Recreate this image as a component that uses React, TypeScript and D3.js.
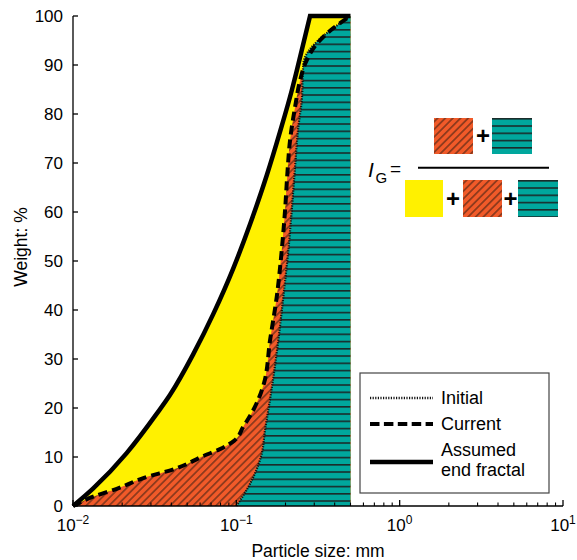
import React from "react";
import * as d3 from "d3";

// Assumed end fractal (solid)
const endSize = [0.01, 0.0133, 0.0213, 0.0325, 0.0393, 0.0545, 0.0723, 0.0958, 0.1213, 0.1536, 0.1852, 0.2184, 0.2343, 0.2827];
const endWeight = [0, 3.6, 10.8, 18.8, 22.7, 31, 39.2, 48.5, 57.5, 67.5, 76.4, 84.8, 88.8, 100];
const topSize = 0.5;

// Current (dashed)
const currentSize = [0.01, 0.01327, 0.01852, 0.02695, 0.04315, 0.0628, 0.0794, 0.0968, 0.1104, 0.1271, 0.1478, 0.1608, 0.1768, 0.1897, 0.1987, 0.2053, 0.2132, 0.2288, 0.2455, 0.2665, 0.3107, 0.3749, 0.5];
const currentWeight = [0, 1.9, 3.5, 5.7, 7.7, 10.2, 11.6, 13.3, 16.2, 19.6, 25.1, 33.8, 42.7, 52.2, 60.3, 67.8, 74.6, 81.4, 86.8, 90.6, 94.3, 97, 100];

// Initial (dotted)
const initialSize = [0.1, 0.1158, 0.1302, 0.1431, 0.1499, 0.157, 0.1666, 0.1807, 0.194, 0.2082, 0.2184, 0.2288, 0.2397, 0.2515, 0.2573, 0.5];
const initialWeight = [0, 3.3, 6.7, 10.7, 15.5, 19.6, 25.1, 33.8, 42.7, 52.2, 60.3, 69.2, 77.3, 82.8, 90.3, 100];

const yTicks = [0, 10, 20, 30, 40, 50, 60, 70, 80, 90, 100];
const xMajor = [0.01, 0.1, 1, 10];
const xMajorExp = ["−2", "−1", "0", "1"];

const YELLOW = "#FFF100";
const ORANGE = "#F15A29";
const TEAL = "#00A79D";
const FONT = "Liberation Sans, Arial, Helvetica, sans-serif";

export default function App() {
  const x = d3.scaleLog().domain([0.01, 10]).range([73, 563]);
  const y = d3.scaleLinear().domain([0, 100]).range([506, 16]);

  const endPts: [number, number][] = endSize.map((d, i) => [x(d), y(endWeight[i])]);
  const curPts: [number, number][] = currentSize.map((d, i) => [x(d), y(currentWeight[i])]);
  const iniPts: [number, number][] = initialSize.map((d, i) => [x(d), y(initialWeight[i])]);

  const lineX = d3.line().curve(d3.curveMonotoneX);
  const lineY = d3.line().curve(d3.curveMonotoneY);

  const endCurve = lineX(endPts) + `L${x(topSize)},${y(100)}`;
  const curCurve = lineY(curPts) as string;
  const iniCurve = lineY(iniPts) as string;

  const x05 = x(0.5);
  const yellowPath = endCurve + `L${x05},${y(0)}Z`;
  const orangePath = curCurve + `L${x05},${y(0)}Z`;
  const tealPath = iniCurve + `L${x05},${y(0)}Z`;

  const minor: number[] = [];
  for (let e = -2; e < 1; e++) for (let k = 2; k <= 9; k++) minor.push(k * Math.pow(10, e));

  const box = (kind: string, bx: number, by: number, w: number, h: number) => (
    <g transform={`translate(${bx},${by})`}>
      <rect width={w} height={h} fill={kind === "y" ? YELLOW : kind === "o" ? "url(#hatchO)" : "url(#hatchT)"} />
    </g>
  );

  return (
    <svg width={577} height={560} style={{ position: "absolute", left: 0, top: 0 }} fontFamily={FONT}>
      <defs>
        <pattern id="hatchO" patternUnits="userSpaceOnUse" width={5.4} height={5.4} patternTransform="rotate(45)">
          <rect width={5.4} height={5.4} fill={ORANGE} />
          <line x1={2.7} y1={0} x2={2.7} y2={5.4} stroke="#2a1a10" strokeWidth={0.9} />
        </pattern>
        <pattern id="hatchT" patternUnits="userSpaceOnUse" width={10} height={7.25}>
          <rect width={10} height={7.25} fill={TEAL} />
          <line x1={0} y1={0.8} x2={10} y2={0.8} stroke="#1a2a2a" strokeWidth={1.6} />
        </pattern>
      </defs>
      <rect width={577} height={560} fill="#fff" />

      {/* fills */}
      <path d={yellowPath} fill={YELLOW} />
      <path d={orangePath} fill="url(#hatchO)" />
      <path d={tealPath} fill="url(#hatchT)" />

      {/* lines */}
      <path d={iniCurve} fill="none" stroke="#111" strokeWidth={2.2} strokeDasharray="1.2,1.3" />
      <path d={curCurve} fill="none" stroke="#000" strokeWidth={4} strokeDasharray="9,5" />
      <path d={endCurve} fill="none" stroke="#000" strokeWidth={4.5} strokeLinejoin="miter" />

      {/* axes */}
      <line x1={73} y1={y(0)} x2={73} y2={y(100)} stroke="#000" strokeWidth={1.3} />
      <line x1={73} y1={y(0)} x2={563} y2={y(0)} stroke="#000" strokeWidth={1.3} />
      {yTicks.map((t) => (
        <g key={t}>
          <line x1={73} x2={78} y1={y(t)} y2={y(t)} stroke="#000" strokeWidth={1.3} />
          <text x={63} y={y(t)} dy="0.33em" textAnchor="end" fontSize={17}>{t}</text>
        </g>
      ))}
      {minor.map((t) => (
        <line key={t} x1={x(t)} x2={x(t)} y1={y(0)} y2={y(0) - 3.5} stroke="#000" strokeWidth={1.1} />
      ))}
      {xMajor.map((t, i) => (
        <g key={t}>
          <line x1={x(t)} x2={x(t)} y1={y(0)} y2={y(0) - 6} stroke="#000" strokeWidth={1.3} />
          <text x={x(t)} y={531} textAnchor="middle" fontSize={17}>
            10<tspan fontSize={12} dy={-7}>{xMajorExp[i]}</tspan>
          </text>
        </g>
      ))}
      <text x={318} y={557} textAnchor="middle" fontSize={17.5}>Particle size: mm</text>
      <text transform="translate(27,247) rotate(-90)" textAnchor="middle" fontSize={17.5}>Weight: %</text>

      {/* formula */}
      {box("o", 434, 118, 39, 36)}
      <text x={483} y={144} textAnchor="middle" fontSize={24} fontWeight="bold">+</text>
      {box("t", 492, 118, 40, 36)}
      <line x1={418} x2={549} y1={167.7} y2={167.7} stroke="#000" strokeWidth={2} />
      <text x={368} y={177} fontSize={21} fontStyle="italic">I</text>
      <text x={375.5} y={183} fontSize={15}>G</text>
      <text x={390} y={175} fontSize={19}>=</text>
      {box("y", 405, 180, 38, 37)}
      <text x={453} y={207} textAnchor="middle" fontSize={24} fontWeight="bold">+</text>
      {box("o", 463, 180, 39, 37)}
      <text x={510.5} y={207} textAnchor="middle" fontSize={24} fontWeight="bold">+</text>
      {box("t", 518, 180, 40, 37)}

      {/* legend */}
      <rect x={360} y={373} width={189} height={120} fill="#fff" stroke="#444" strokeWidth={1.2} />
      <line x1={370} x2={433} y1={398} y2={398} stroke="#111" strokeWidth={2.6} strokeDasharray="1.2,1.4" />
      <text x={441} y={404} fontSize={18}>Initial</text>
      <line x1={370} x2={433} y1={424} y2={424} stroke="#000" strokeWidth={4} strokeDasharray="9.5,4.4" />
      <text x={441} y={430} fontSize={18}>Current</text>
      <line x1={370} x2={433} y1={462} y2={462} stroke="#000" strokeWidth={4.5} />
      <text x={441} y={456} fontSize={18}>Assumed</text>
      <text x={441} y={476} fontSize={18}>end fractal</text>
    </svg>
  );
}
